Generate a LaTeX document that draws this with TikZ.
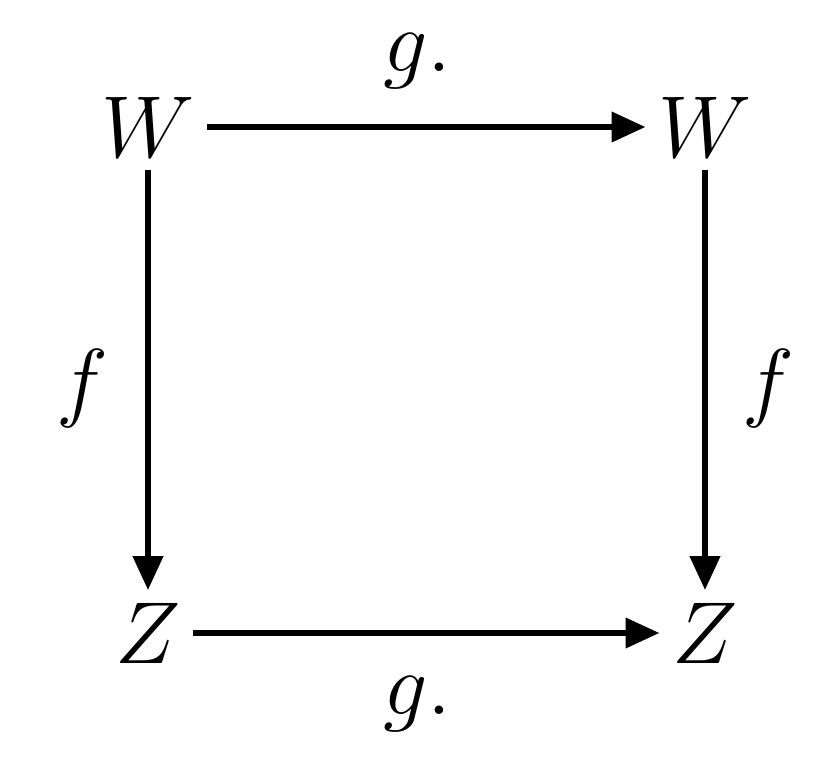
\documentclass[tikz,border=0pt]{standalone}
\usepackage{fix-cm}
\usetikzlibrary{arrows.meta}
\begin{document}
\begin{tikzpicture}[x=0.01cm,y=-0.01cm,font=\fontsize{25}{30}\selectfont,
  obj/.style={inner sep=0.12cm},
  arr/.style={line width=1.9pt,-{Triangle[length=3.4mm,width=2.9mm]}}]
\useasboundingbox(0,0)rectangle(829,763);
\node[obj](wl)at(148,127){$W$};
\node[obj](wr)at(705,127){$W$};
\node[obj](zl)at(148,633){$Z$};
\node[obj](zr)at(705,633){$Z$};
\draw[arr](wl)--(wr)node[pos=0.48,above=0.23cm,obj](gt){$g.$};
\draw[arr](zl)--(zr)node[pos=0.48,below=0.28cm,obj](gb){$g.$};
\draw[arr](wl)--(zl)node[pos=0.52,left=0.24cm,obj](fl){$f$};
\draw[arr](wr)--(zr)node[pos=0.52,right=0.22cm,obj](fr){$f$};
\end{tikzpicture}
\end{document}
